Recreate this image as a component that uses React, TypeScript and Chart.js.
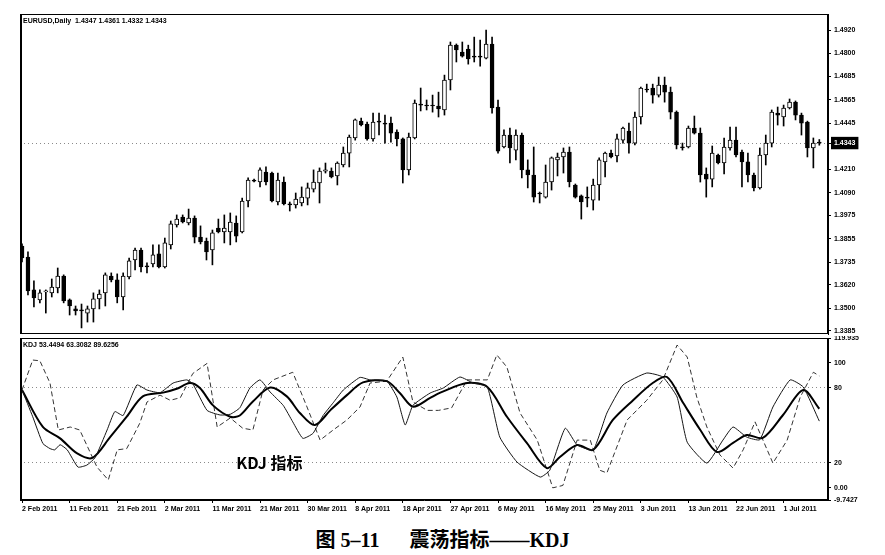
import React, { useEffect, useRef } from 'react';
import { Chart, registerables } from 'chart.js';

Chart.register(...registerables);

// ---------- EURUSD daily candles (index 0 = 2 Feb 2011) ----------
const opens = [
  1.3817, 1.3761, 1.3593, 1.3542, 1.3583, 1.3578, 1.3603, 1.3664, 1.3542, 1.3496,
  1.3491, 1.3475, 1.3496, 1.3547, 1.3578, 1.3664, 1.3644, 1.3557, 1.3659, 1.3746,
  1.3797, 1.3716, 1.3726, 1.3777, 1.3710, 1.3823, 1.3925, 1.3965, 1.3935, 1.3960,
  1.3863, 1.3843, 1.3797, 1.3909, 1.3889, 1.3889, 1.3935, 1.3889, 1.4047, 1.4154,
  1.4144, 1.4195, 1.4190, 1.4042, 1.4144, 1.4032, 1.4027, 1.4037, 1.4062, 1.4108,
  1.4139, 1.4200, 1.4200, 1.4175, 1.4231, 1.4292, 1.4369, 1.4455, 1.4440, 1.4364,
  1.4455, 1.4445, 1.4445, 1.4399, 1.4364, 1.4206, 1.4369, 1.4542, 1.4537, 1.4537,
  1.4532, 1.4512, 1.4665, 1.4843, 1.4808, 1.4823, 1.4787, 1.4787, 1.4777, 1.4849,
  1.4527, 1.4323, 1.4384, 1.4307, 1.4384, 1.4206, 1.4180, 1.4088, 1.4067, 1.4144,
  1.4257, 1.4272, 1.4297, 1.4129, 1.4073, 1.4067, 1.4052, 1.4129, 1.4247, 1.4292,
  1.4277, 1.4358, 1.4404, 1.4343, 1.4476, 1.4619, 1.4624, 1.4588, 1.4639, 1.4603,
  1.4501, 1.4323, 1.4323, 1.4420, 1.4394, 1.4185, 1.4159, 1.4282, 1.4241, 1.4318,
  1.4358, 1.4297, 1.4247, 1.4180, 1.4114, 1.4282, 1.4343, 1.4496, 1.4476, 1.4522,
  1.4552, 1.4486, 1.4450, 1.4318, 1.4347,
];
const highs = [
  1.3828, 1.3787, 1.3639, 1.3593, 1.3593, 1.3649, 1.3705, 1.3670, 1.3547, 1.3511,
  1.3521, 1.3511, 1.3578, 1.3593, 1.3680, 1.3680, 1.3675, 1.3680, 1.3756, 1.3807,
  1.3807, 1.3731, 1.3823, 1.3823, 1.3858, 1.3945, 1.3976, 1.3976, 1.4006, 1.3971,
  1.3920, 1.3858, 1.3899, 1.3955, 1.3976, 1.3986, 1.3971, 1.4062, 1.4165, 1.4159,
  1.4216, 1.4221, 1.4195, 1.4190, 1.4170, 1.4042, 1.4088, 1.4119, 1.4139, 1.4206,
  1.4216, 1.4241, 1.4216, 1.4247, 1.4323, 1.4384, 1.4466, 1.4471, 1.4450, 1.4496,
  1.4496, 1.4486, 1.4476, 1.4410, 1.4369, 1.4394, 1.4563, 1.4624, 1.4563, 1.4588,
  1.4603, 1.4690, 1.4859, 1.4849, 1.4859, 1.4843, 1.4884, 1.4869, 1.4920, 1.4884,
  1.4563, 1.4410, 1.4420, 1.4410, 1.4394, 1.4257, 1.4323, 1.4093, 1.4231, 1.4272,
  1.4292, 1.4318, 1.4323, 1.4134, 1.4078, 1.4119, 1.4159, 1.4267, 1.4297, 1.4307,
  1.4389, 1.4425, 1.4445, 1.4501, 1.4629, 1.4644, 1.4644, 1.4680, 1.4680, 1.4629,
  1.4507, 1.4343, 1.4430, 1.4481, 1.4420, 1.4216, 1.4328, 1.4287, 1.4369, 1.4425,
  1.4425, 1.4307, 1.4292, 1.4190, 1.4318, 1.4384, 1.4512, 1.4527, 1.4537, 1.4568,
  1.4558, 1.4496, 1.4455, 1.4369, 1.4361,
];
const lows = [
  1.3736, 1.3567, 1.3506, 1.3527, 1.3475, 1.3557, 1.3578, 1.3527, 1.3465, 1.3465,
  1.3399, 1.3429, 1.3429, 1.3496, 1.3511, 1.3634, 1.3527, 1.3491, 1.3649, 1.3695,
  1.3685, 1.3680, 1.3710, 1.3705, 1.3705, 1.3802, 1.3914, 1.3935, 1.3925, 1.3833,
  1.3828, 1.3746, 1.3721, 1.3884, 1.3833, 1.3823, 1.3838, 1.3884, 1.4017, 1.4144,
  1.4119, 1.4129, 1.4042, 1.4027, 1.4027, 1.3996, 1.4011, 1.4022, 1.4027, 1.4093,
  1.4037, 1.4190, 1.4165, 1.4129, 1.4221, 1.4221, 1.4358, 1.4430, 1.4358, 1.4353,
  1.4384, 1.4343, 1.4348, 1.4328, 1.4139, 1.4180, 1.4364, 1.4507, 1.4512, 1.4501,
  1.4476, 1.4486, 1.4614, 1.4757, 1.4782, 1.4746, 1.4757, 1.4736, 1.4772, 1.4496,
  1.4292, 1.4318, 1.4241, 1.4257, 1.4165, 1.4114, 1.4042, 1.4037, 1.4062, 1.4103,
  1.4175, 1.4190, 1.4119, 1.4062, 1.3955, 1.4017, 1.4001, 1.4052, 1.4170, 1.4267,
  1.4247, 1.4343, 1.4292, 1.4333, 1.4440, 1.4603, 1.4547, 1.4578, 1.4552, 1.4466,
  1.4313, 1.4307, 1.4318, 1.4389, 1.4144, 1.4067, 1.4119, 1.4236, 1.4185, 1.4307,
  1.4272, 1.4119, 1.4144, 1.4098, 1.4108, 1.4231, 1.4323, 1.4435, 1.4430, 1.4517,
  1.4461, 1.4384, 1.4272, 1.4216, 1.4332,
];
const closes = [
  1.3756, 1.3588, 1.3552, 1.3578, 1.3588, 1.3608, 1.3664, 1.3537, 1.3511, 1.3486,
  1.3486, 1.3496, 1.3547, 1.3572, 1.3670, 1.3644, 1.3557, 1.3664, 1.3741, 1.3797,
  1.3710, 1.3710, 1.3772, 1.3710, 1.3833, 1.3930, 1.3955, 1.3940, 1.3960, 1.3863,
  1.3838, 1.3787, 1.3884, 1.3889, 1.3909, 1.3940, 1.3868, 1.4047, 1.4154, 1.4149,
  1.4206, 1.4144, 1.4047, 1.4154, 1.4032, 1.4027, 1.4057, 1.4067, 1.4114, 1.4144,
  1.4200, 1.4206, 1.4170, 1.4241, 1.4292, 1.4374, 1.4461, 1.4435, 1.4364, 1.4450,
  1.4450, 1.4440, 1.4394, 1.4364, 1.4206, 1.4374, 1.4547, 1.4537, 1.4532, 1.4532,
  1.4517, 1.4665, 1.4843, 1.4818, 1.4787, 1.4772, 1.4782, 1.4782, 1.4849, 1.4522,
  1.4302, 1.4384, 1.4318, 1.4384, 1.4206, 1.4180, 1.4067, 1.4083, 1.4144, 1.4267,
  1.4272, 1.4297, 1.4144, 1.4067, 1.4042, 1.4062, 1.4129, 1.4257, 1.4292, 1.4272,
  1.4364, 1.4420, 1.4343, 1.4476, 1.4624, 1.4614, 1.4588, 1.4639, 1.4603, 1.4501,
  1.4333, 1.4318, 1.4420, 1.4394, 1.4180, 1.4159, 1.4292, 1.4241, 1.4323, 1.4358,
  1.4282, 1.4247, 1.4180, 1.4114, 1.4282, 1.4343, 1.4501, 1.4486, 1.4522, 1.4552,
  1.4486, 1.4445, 1.4318, 1.4343, 1.4343,
];

const priceTicks = [1.4920, 1.4800, 1.4685, 1.4565, 1.4445, 1.4343, 1.4210, 1.4090, 1.3975, 1.3855, 1.3735, 1.3620, 1.3500, 1.3385];
const currentPrice = 1.4343;
const PRICE_MIN = 1.3368;
const PRICE_MAX = 1.5002;

// ---------- KDJ (bar index, value) ----------
const kPoints: [number, number][] = [
  [0, 78.3], [1.8, 56.9], [3.5, 35.5], [4.7, 31.4], [5.5, 30.4], [6.4, 34.5], [7.6, 30.4], [9.4, 16.6], [10.9, 18.2], [12.3, 24.3],
  [14.3, 46.3], [15.6, 61], [17, 57.9], [19.3, 82.3], [21, 78.3], [23.2, 76.2], [25.4, 83.9], [27.7, 86.4], [28.7, 83.3], [31.1, 62],
  [33.3, 58.3], [35, 58.9], [36.6, 64], [38.3, 79.9], [40, 86.4], [41.7, 76.7], [43.9, 66], [45.5, 52.8], [47.2, 39.6], [48.9, 43.6],
  [50.6, 57.9], [52.3, 68.1], [54, 78.3], [56.8, 88.4], [58.5, 86.4], [61.3, 85.4], [63, 72.7], [64.4, 50.3], [65.7, 66], [68.6, 75.9],
  [70.8, 79.9], [73.6, 88.7], [75.8, 83.9], [78.2, 80.7], [80.3, 40.6], [83.2, 20.6], [87.1, 8.6], [88.7, 14.1], [91.3, 47.7], [93.3, 34.3],
  [96, 30.4], [98.3, 59.9], [101, 82.3], [105, 91.9], [107.7, 88.7], [110.1, 72.7], [111.8, 36.5], [115.1, 19.8], [117.8, 38.2], [119.5, 48.7],
  [121.8, 40.6], [124, 38.5], [126.2, 64.7], [129.1, 86.4], [131.3, 80.7], [134, 53.4],
];
const dPoints: [number, number][] = [
  [0, 78.3], [3.5, 48.7], [6.4, 39.6], [9.2, 27.8], [11.8, 23.9], [14.8, 40.6], [17.6, 56.9], [20.3, 73.2], [23.7, 76.2], [26, 79.3],
  [28.2, 83.9], [29.9, 79.9], [32.1, 66], [35, 56.9], [36.6, 57.9], [38.8, 69.1], [41.7, 80.3], [44.5, 73.2], [46.7, 59.9], [49.2, 50.2],
  [51.8, 62], [54.6, 74.2], [57.3, 84.4], [61.3, 85.4], [63.5, 75.9], [65.7, 65], [68.6, 72], [70.3, 76.2], [74.8, 83.9], [78.2, 80.7],
  [81.5, 56.9], [84.9, 35.5], [88.2, 15.8], [90.4, 24.7], [93.3, 34.3], [96, 30.4], [99.3, 54.3], [102.7, 70.1], [106, 83.9], [108.4, 88.7],
  [111.1, 68.1], [114, 46.3], [116.8, 28.7], [119.5, 35.9], [121.8, 42.3], [124.5, 39.9], [127.9, 58.3], [131.3, 78.3], [134, 63.3],
];
const jPoints: [number, number][] = [
  [0, 78.3], [1.8, 102.3], [3, 101.7], [4.7, 83.9], [6.1, 46.3], [8.1, 48.7], [9.7, 46.3], [12.6, 16.6], [14.5, 6.3], [16, 30.4],
  [17.6, 31.4], [19.8, 51.8], [21, 68.7], [23.2, 74.2], [24.9, 70.1], [26.6, 72.1], [28.7, 91.5], [31.1, 99.6], [32.8, 48.7], [35, 55.9],
  [37.1, 47.7], [38.8, 46.3], [40.5, 78.3], [42.2, 86.4], [45.5, 92.5], [47.9, 64.7], [50.1, 38.2], [52.3, 46.3], [54.6, 54.3], [56.8, 64.7],
  [58.5, 83.9], [61.3, 85.4], [64, 104.7], [65.7, 68.7], [68.1, 62], [70, 62], [72.2, 64], [74.8, 86.4], [78.2, 86.4], [79.8, 106.4],
  [81.5, 96.6], [83.7, 59.9], [86.6, 38.2], [89.2, 0], [90.9, 1.9], [93.3, 38.2], [95.5, 38.2], [97.1, 14.1], [98.3, 11.9], [101.7, 54.3],
  [105, 70.1], [107.7, 86.4], [110.1, 114.3], [111.8, 104.7], [113.4, 72.7], [115.1, 48.7], [117.3, 26.3], [119.5, 15.8], [121.2, 30.4], [123.2, 52.8],
  [126.2, 19.8], [128.6, 38.2], [130.8, 72.7], [133, 92.5], [134, 89.6],
];
const kdjTicks = [119.935, 100, 80, 20, 0, -9.7427];
const kdjTickLabels = ['119.935', '100', '80', '20', '0.00', '-9.7427'];
const KDJ_MIN = -9.7427;
const KDJ_MAX = 119.935;

// ---------- date axis ----------
const dateTickIdx = [0, 8, 16, 24, 32, 40, 48, 56, 64, 72, 80, 88, 96, 104, 112, 120, 128];
const dateLabels = [
  '2 Feb 2011', '11 Feb 2011', '21 Feb 2011', '2 Mar 2011', '11 Mar 2011', '21 Mar 2011', '30 Mar 2011', '8 Apr 2011',
  '18 Apr 2011', '27 Apr 2011', '6 May 2011', '16 May 2011', '25 May 2011', '3 Jun 2011', '13 Jun 2011', '22 Jun 2011', '1 Jul 2011',
];

const priceHeader = 'EURUSD,Daily  1.4347 1.4361 1.4332 1.4343';
const kdjHeader = 'KDJ 53.4494 63.3082 89.6256';
const kdjNote = 'KDJ 指标';
const caption = '图 5–11\u3000\u2002震荡指标——KDJ';

const X_MIN = -0.34;
const X_MAX = 135.46;
const AX_FONT = { family: 'Liberation Sans', size: 7, weight: 'bold' as const };

const framePlugin = {
  id: 'panelFrame',
  afterDraw(chart: any, _args: any, opts: any) {
    const { ctx, chartArea: a } = chart;
    ctx.save();
    ctx.strokeStyle = '#000';
    ctx.lineWidth = 1;
    ctx.strokeRect(a.left + 0.5, a.top + 0.5, a.right - a.left - 1, a.bottom - a.top - 1);
    ctx.lineWidth = 2;
    ctx.beginPath();
    ctx.moveTo(a.left + 1, a.top);
    ctx.lineTo(a.left + 1, a.bottom);
    ctx.stroke();
    ctx.fillStyle = '#000';
    ctx.textAlign = 'left';
    if (opts.text) {
      ctx.textBaseline = 'top';
      ctx.font = 'bold 7px "Liberation Sans"';
      ctx.fillText(opts.text, a.left + 3, a.top + 4);
    }
    if (opts.note) {
      ctx.textBaseline = 'middle';
      ctx.font = 'bold 16px "Noto Sans CJK SC"';
      const px = chart.scales.x.getPixelForValue(opts.noteAt[0]);
      const py = chart.scales.y.getPixelForValue(opts.noteAt[1]);
      ctx.fillText(opts.note, px, py);
    }
    ctx.restore();
  },
};

export default function App() {
  const priceRef = useRef<HTMLCanvasElement>(null);
  const kdjRef = useRef<HTMLCanvasElement>(null);

  useEffect(() => {
    const idx = opens.map((_, i) => i);
    const bodyData = idx.map((i) => ({ x: i, y: [opens[i], closes[i]] }));
    const wickData = idx.map((i) => ({ x: i, y: [lows[i], highs[i]] }));
    const bodyFill = idx.map((i) => (closes[i] >= opens[i] ? '#ffffff' : '#000000'));

    const priceChart = new Chart(priceRef.current as HTMLCanvasElement, {
      type: 'bar',
      data: {
        datasets: [
          {
            data: bodyData as any,
            backgroundColor: bodyFill,
            borderColor: '#000',
            borderWidth: 1,
            borderSkipped: false,
            barThickness: 4,
            minBarLength: 1,
            grouped: false,
            order: 0,
          } as any,
          {
            data: wickData as any,
            backgroundColor: '#000',
            borderWidth: 0,
            barThickness: 1,
            grouped: false,
            order: 1,
          } as any,
        ],
      },
      options: {
        responsive: false,
        animation: false,
        devicePixelRatio: 1,
        layout: { padding: { left: 20, top: 14, right: 0, bottom: 2 } },
        plugins: {
          legend: { display: false },
          tooltip: { enabled: false },
          panelFrame: { text: priceHeader },
        } as any,
        scales: {
          x: { type: 'linear', min: X_MIN, max: X_MAX, display: false, offset: false },
          y: {
            position: 'right',
            min: PRICE_MIN,
            max: PRICE_MAX,
            afterBuildTicks: (s: any) => {
              s.ticks = priceTicks.map((v) => ({ value: v }));
            },
            afterFit: (s: any) => {
              s.width = 57;
              s.paddingTop = 0;
              s.paddingBottom = 0;
            },
            ticks: {
              autoSkip: false,
              padding: 3,
              font: AX_FONT,
              color: (c: any) => (c.tick && c.tick.value === currentPrice ? '#fff' : '#000'),
              showLabelBackdrop: (c: any) => !!c.tick && c.tick.value === currentPrice,
              backdropColor: '#000',
              backdropPadding: { top: 2, bottom: 2, left: 3, right: 3 },
              callback: (v: any) => Number(v).toFixed(4),
            },
            grid: {
              drawOnChartArea: true,
              color: (c: any) => (c.tick && c.tick.value === currentPrice ? '#8a8a8a' : 'transparent'),
              tickColor: '#000',
              tickLength: 3,
            },
            border: { display: true, color: '#000', width: 1, dash: [1, 3] },
          },
        } as any,
      },
      plugins: [framePlugin],
    });

    const toXY = (pts: [number, number][]) => pts.map(([x, y]) => ({ x, y }));

    const kdjChart = new Chart(kdjRef.current as HTMLCanvasElement, {
      type: 'line',
      data: {
        datasets: [
          { label: 'K', data: toXY(kPoints), borderColor: '#151515', borderWidth: 1, pointRadius: 0, tension: 0.15 },
          { label: 'D', data: toXY(dPoints), borderColor: '#000', borderWidth: 2, pointRadius: 0, tension: 0.3 },
          { label: 'J', data: toXY(jPoints), borderColor: '#333', borderWidth: 1, borderDash: [5, 3], pointRadius: 0, tension: 0 },
        ],
      },
      options: {
        responsive: false,
        animation: false,
        devicePixelRatio: 1,
        layout: { padding: { left: 20, top: 2, right: 0, bottom: 0 } },
        plugins: {
          legend: { display: false },
          tooltip: { enabled: false },
          panelFrame: { text: kdjHeader, note: kdjNote, noteAt: [36, 20] },
        } as any,
        scales: {
          x: {
            type: 'linear',
            min: X_MIN,
            max: X_MAX,
            afterBuildTicks: (s: any) => {
              s.ticks = dateTickIdx.map((v) => ({ value: v }));
            },
            afterFit: (s: any) => {
              s.height = 20;
              s.paddingLeft = 0;
              s.paddingRight = 0;
            },
            ticks: {
              autoSkip: false,
              maxRotation: 0,
              minRotation: 0,
              align: 'start',
              padding: 2,
              font: AX_FONT,
              color: '#000',
              callback: (_v: any, i: number) => dateLabels[i],
            },
            grid: { drawOnChartArea: false, tickColor: '#000', tickLength: 3 },
            border: { display: true, color: '#000' },
          },
          y: {
            position: 'right',
            min: KDJ_MIN,
            max: KDJ_MAX,
            afterBuildTicks: (s: any) => {
              s.ticks = kdjTicks.map((v) => ({ value: v }));
            },
            afterFit: (s: any) => {
              s.width = 57;
              s.paddingTop = 0;
              s.paddingBottom = 0;
            },
            ticks: {
              autoSkip: false,
              padding: 3,
              font: AX_FONT,
              color: '#000',
              callback: (_v: any, i: number) => kdjTickLabels[i],
            },
            grid: {
              drawOnChartArea: true,
              color: (c: any) => (c.tick && (c.tick.value === 80 || c.tick.value === 20) ? '#8a8a8a' : 'transparent'),
              tickColor: '#000',
              tickLength: 3,
            },
            border: { display: true, color: '#000', width: 1, dash: [1, 3] },
          },
        } as any,
      },
      plugins: [framePlugin],
    });

    return () => {
      priceChart.destroy();
      kdjChart.destroy();
    };
  }, []);

  return (
    <div style={{ position: 'fixed', left: 0, top: 0, width: 885, height: 555, background: '#fff', overflow: 'hidden' }}>
      <canvas ref={priceRef} width={885} height={336} style={{ position: 'absolute', left: 0, top: 0 }} />
      <canvas ref={kdjRef} width={885} height={184} style={{ position: 'absolute', left: 0, top: 336 }} />
      <div
        style={{
          position: 'absolute',
          left: 0,
          top: 527,
          width: 885,
          textAlign: 'center',
          font: 'bold 20px "Liberation Serif", "Noto Sans CJK SC", serif',
          lineHeight: '26px',
          color: '#000',
        }}
      >
        {caption}
      </div>
    </div>
  );
}
